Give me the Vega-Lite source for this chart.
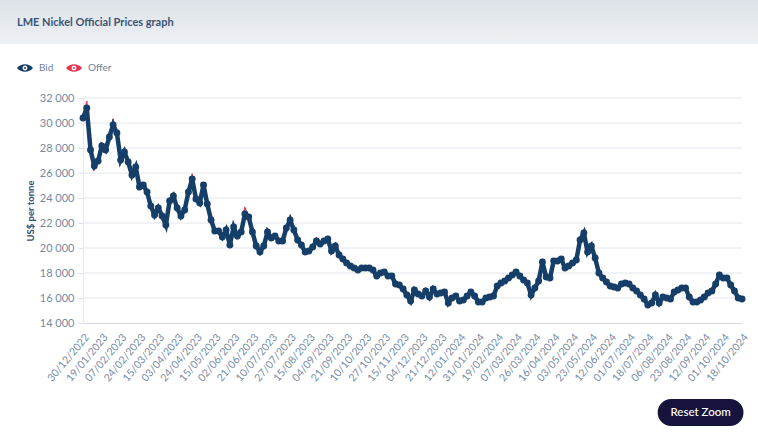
{"$schema":"https://vega.github.io/schema/vega-lite/v6.json","padding":0,"autosize":{"type":"none"},"width":758,"height":437,"background":"#ffffff","title":{"text":"LME Nickel Official Prices graph","anchor":"start","frame":"group","dx":17,"offset":-34,"baseline":"middle","font":"Lato","fontWeight":"bold","fontSize":11,"color":"#3a5573"},"config":{"font":"Lato","view":{"stroke":null}},"datasets":{"prices":[
{"date":"30/12/2022","bid":30400,"offer":30470},{"date":"04/01/2023","bid":31200,"offer":31700},{"date":"09/01/2023","bid":27840,"offer":27900},{"date":"12/01/2023","bid":26560,"offer":26300},{"date":"16/01/2023","bid":26960,"offer":27030},
{"date":"19/01/2023","bid":28160,"offer":28400},{"date":"23/01/2023","bid":27840,"offer":27900},{"date":"26/01/2023","bid":28880,"offer":28950},{"date":"30/01/2023","bid":29840,"offer":30300},{"date":"02/02/2023","bid":29200,"offer":29270},
{"date":"07/02/2023","bid":27040,"offer":27100},{"date":"10/02/2023","bid":27680,"offer":28000},{"date":"14/02/2023","bid":26880,"offer":26950},{"date":"17/02/2023","bid":25840,"offer":25900},{"date":"21/02/2023","bid":26480,"offer":26700},
{"date":"24/02/2023","bid":24880,"offer":24950},{"date":"01/03/2023","bid":25040,"offer":25110},{"date":"06/03/2023","bid":24480,"offer":24550},{"date":"08/03/2023","bid":23360,"offer":23430},{"date":"13/03/2023","bid":22640,"offer":23000},
{"date":"15/03/2023","bid":23200,"offer":23400},{"date":"20/03/2023","bid":22560,"offer":22630},{"date":"23/03/2023","bid":21840,"offer":21900},{"date":"27/03/2023","bid":23760,"offer":23830},{"date":"30/03/2023","bid":24160,"offer":24400},
{"date":"03/04/2023","bid":23200,"offer":23270},{"date":"06/04/2023","bid":22560,"offer":22630},{"date":"12/04/2023","bid":23040,"offer":23110},{"date":"14/04/2023","bid":24480,"offer":24550},{"date":"19/04/2023","bid":25520,"offer":25900},
{"date":"24/04/2023","bid":23920,"offer":23990},{"date":"27/04/2023","bid":23600,"offer":23670},{"date":"03/05/2023","bid":25040,"offer":25150},{"date":"05/05/2023","bid":23520,"offer":23590},{"date":"10/05/2023","bid":22240,"offer":22310},
{"date":"15/05/2023","bid":21360,"offer":21430},{"date":"18/05/2023","bid":21360,"offer":21430},{"date":"22/05/2023","bid":20880,"offer":20950},{"date":"25/05/2023","bid":21440,"offer":21700},{"date":"30/05/2023","bid":20240,"offer":20310},
{"date":"02/06/2023","bid":21680,"offer":21900},{"date":"07/06/2023","bid":20960,"offer":21030},{"date":"12/06/2023","bid":21280,"offer":21350},{"date":"14/06/2023","bid":22720,"offer":23200},{"date":"19/06/2023","bid":22480,"offer":22550},
{"date":"21/06/2023","bid":21280,"offer":21350},{"date":"26/06/2023","bid":20160,"offer":20230},{"date":"29/06/2023","bid":19680,"offer":19750},{"date":"03/07/2023","bid":20160,"offer":20230},{"date":"06/07/2023","bid":21280,"offer":21500},
{"date":"10/07/2023","bid":20800,"offer":20870},{"date":"13/07/2023","bid":20960,"offer":21100},{"date":"17/07/2023","bid":20560,"offer":20630},{"date":"19/07/2023","bid":20560,"offer":20630},{"date":"25/07/2023","bid":21600,"offer":21670},
{"date":"27/07/2023","bid":22240,"offer":22600},{"date":"01/08/2023","bid":21440,"offer":21510},{"date":"04/08/2023","bid":20640,"offer":20710},{"date":"08/08/2023","bid":20240,"offer":20310},{"date":"11/08/2023","bid":19680,"offer":19750},
{"date":"15/08/2023","bid":19760,"offer":19830},{"date":"18/08/2023","bid":20080,"offer":20150},{"date":"23/08/2023","bid":20560,"offer":20800},{"date":"28/08/2023","bid":20320,"offer":20390},{"date":"31/08/2023","bid":20560,"offer":20630},
{"date":"04/09/2023","bid":20720,"offer":20790},{"date":"07/09/2023","bid":19760,"offer":19830},{"date":"11/09/2023","bid":20160,"offer":20300},{"date":"14/09/2023","bid":19440,"offer":19510},{"date":"19/09/2023","bid":19120,"offer":19190},
{"date":"21/09/2023","bid":18800,"offer":18870},{"date":"26/09/2023","bid":18560,"offer":18630},{"date":"29/09/2023","bid":18400,"offer":18470},{"date":"03/10/2023","bid":18240,"offer":18310},{"date":"06/10/2023","bid":18400,"offer":18470},
{"date":"10/10/2023","bid":18400,"offer":18470},{"date":"13/10/2023","bid":18400,"offer":18470},{"date":"17/10/2023","bid":18240,"offer":18310},{"date":"20/10/2023","bid":17760,"offer":17830},{"date":"25/10/2023","bid":18000,"offer":18070},
{"date":"27/10/2023","bid":18080,"offer":18150},{"date":"01/11/2023","bid":17760,"offer":17830},{"date":"06/11/2023","bid":17760,"offer":17830},{"date":"08/11/2023","bid":17120,"offer":17190},{"date":"13/11/2023","bid":17040,"offer":17110},
{"date":"15/11/2023","bid":16720,"offer":16790},{"date":"20/11/2023","bid":16240,"offer":16310},{"date":"23/11/2023","bid":15760,"offer":15830},{"date":"27/11/2023","bid":16640,"offer":16710},{"date":"30/11/2023","bid":16320,"offer":16390},
{"date":"04/12/2023","bid":16160,"offer":16230},{"date":"07/12/2023","bid":16560,"offer":16630},{"date":"11/12/2023","bid":16080,"offer":16150},{"date":"14/12/2023","bid":16720,"offer":16790},{"date":"19/12/2023","bid":16320,"offer":16390},
{"date":"21/12/2023","bid":16400,"offer":16470},{"date":"28/12/2023","bid":16480,"offer":16650},{"date":"03/01/2024","bid":15600,"offer":15670},{"date":"05/01/2024","bid":16000,"offer":16070},{"date":"10/01/2024","bid":16160,"offer":16280},
{"date":"12/01/2024","bid":15760,"offer":15830},{"date":"17/01/2024","bid":15840,"offer":15910},{"date":"19/01/2024","bid":16160,"offer":16230},{"date":"24/01/2024","bid":16480,"offer":16550},{"date":"29/01/2024","bid":16160,"offer":16230},
{"date":"31/01/2024","bid":15680,"offer":15750},{"date":"05/02/2024","bid":15680,"offer":15750},{"date":"08/02/2024","bid":16000,"offer":16070},{"date":"12/02/2024","bid":16080,"offer":16150},{"date":"15/02/2024","bid":16160,"offer":16230},
{"date":"19/02/2024","bid":16960,"offer":17030},{"date":"22/02/2024","bid":17200,"offer":17270},{"date":"26/02/2024","bid":17360,"offer":17430},{"date":"29/02/2024","bid":17600,"offer":17670},{"date":"04/03/2024","bid":17840,"offer":17910},
{"date":"07/03/2024","bid":18080,"offer":18150},{"date":"12/03/2024","bid":17760,"offer":17830},{"date":"15/03/2024","bid":17440,"offer":17510},{"date":"19/03/2024","bid":17200,"offer":17270},{"date":"22/03/2024","bid":16240,"offer":16310},
{"date":"26/03/2024","bid":16800,"offer":16870},{"date":"02/04/2024","bid":17360,"offer":17430},{"date":"05/04/2024","bid":18880,"offer":19100},{"date":"09/04/2024","bid":17680,"offer":17750},{"date":"12/04/2024","bid":17600,"offer":17670},
{"date":"16/04/2024","bid":18960,"offer":19030},{"date":"19/04/2024","bid":18960,"offer":19030},{"date":"23/04/2024","bid":19120,"offer":19190},{"date":"26/04/2024","bid":18400,"offer":18470},{"date":"30/04/2024","bid":18560,"offer":18630},
{"date":"03/05/2024","bid":18800,"offer":18870},{"date":"08/05/2024","bid":19040,"offer":19110},{"date":"10/05/2024","bid":20640,"offer":20710},{"date":"15/05/2024","bid":21200,"offer":21270},{"date":"20/05/2024","bid":19680,"offer":19750},
{"date":"23/05/2024","bid":20160,"offer":20230},{"date":"28/05/2024","bid":19200,"offer":19270},{"date":"31/05/2024","bid":18000,"offer":18070},{"date":"05/06/2024","bid":17600,"offer":17670},{"date":"07/06/2024","bid":17280,"offer":17350},
{"date":"12/06/2024","bid":16960,"offer":17030},{"date":"17/06/2024","bid":16880,"offer":16950},{"date":"20/06/2024","bid":16800,"offer":16870},{"date":"25/06/2024","bid":17120,"offer":17190},{"date":"27/06/2024","bid":17200,"offer":17270},
{"date":"01/07/2024","bid":17120,"offer":17190},{"date":"04/07/2024","bid":16800,"offer":16870},{"date":"09/07/2024","bid":16560,"offer":16630},{"date":"11/07/2024","bid":16240,"offer":16310},{"date":"16/07/2024","bid":15920,"offer":15990},
{"date":"18/07/2024","bid":15440,"offer":15510},{"date":"23/07/2024","bid":15600,"offer":15670},{"date":"25/07/2024","bid":16240,"offer":16310},{"date":"30/07/2024","bid":15600,"offer":15670},{"date":"01/08/2024","bid":16080,"offer":16150},
{"date":"06/08/2024","bid":16000,"offer":16070},{"date":"09/08/2024","bid":15920,"offer":15990},{"date":"13/08/2024","bid":16480,"offer":16550},{"date":"15/08/2024","bid":16640,"offer":16710},{"date":"20/08/2024","bid":16800,"offer":16870},
{"date":"23/08/2024","bid":16800,"offer":16870},{"date":"28/08/2024","bid":16080,"offer":16150},{"date":"02/09/2024","bid":15680,"offer":15750},{"date":"04/09/2024","bid":15680,"offer":15750},{"date":"09/09/2024","bid":15840,"offer":15910},
{"date":"12/09/2024","bid":16080,"offer":16150},{"date":"17/09/2024","bid":16400,"offer":16470},{"date":"19/09/2024","bid":16560,"offer":16630},{"date":"24/09/2024","bid":17120,"offer":17190},{"date":"26/09/2024","bid":17840,"offer":17910},
{"date":"01/10/2024","bid":17600,"offer":17670},{"date":"04/10/2024","bid":17600,"offer":17670},{"date":"09/10/2024","bid":17040,"offer":17110},{"date":"11/10/2024","bid":16560,"offer":16630},{"date":"16/10/2024","bid":16000,"offer":16070},
{"date":"18/10/2024","bid":15920,"offer":15990}],
"gridlines":[{"level":16000},{"level":18000},{"level":20000},{"level":22000},{"level":24000},{"level":26000},{"level":28000},{"level":30000},{"level":32000}],
"button":[{"name":"Reset Zoom"}]},
"layer":[
{"data":{"values":[{"band":"header"}]},"mark":{"type":"rect","fill":{"x1":0,"y1":0,"x2":0,"y2":1,"gradient":"linear","stops":[{"offset":0,"color":"#dde3e9"},{"offset":1,"color":"#edf0f3"}]}},"encoding":{"y":{"datum":39840},"y2":{"datum":36320}}},
{"encoding":{"x":{"field":"date","type":"ordinal","title":null,"scale":{"type":"point","padding":0,"range":[83,742],"domain":["30/12/2022","04/01/2023","09/01/2023","12/01/2023","16/01/2023","19/01/2023","23/01/2023","26/01/2023","30/01/2023","02/02/2023","07/02/2023","10/02/2023","14/02/2023","17/02/2023","21/02/2023","24/02/2023","01/03/2023","06/03/2023","08/03/2023","13/03/2023","15/03/2023","20/03/2023","23/03/2023","27/03/2023","30/03/2023","03/04/2023","06/04/2023","12/04/2023","14/04/2023","19/04/2023","24/04/2023","27/04/2023","03/05/2023","05/05/2023","10/05/2023","15/05/2023","18/05/2023","22/05/2023","25/05/2023","30/05/2023","02/06/2023","07/06/2023","12/06/2023","14/06/2023","19/06/2023","21/06/2023","26/06/2023","29/06/2023","03/07/2023","06/07/2023","10/07/2023","13/07/2023","17/07/2023","19/07/2023","25/07/2023","27/07/2023","01/08/2023","04/08/2023","08/08/2023","11/08/2023","15/08/2023","18/08/2023","23/08/2023","28/08/2023","31/08/2023","04/09/2023","07/09/2023","11/09/2023","14/09/2023","19/09/2023","21/09/2023","26/09/2023","29/09/2023","03/10/2023","06/10/2023","10/10/2023","13/10/2023","17/10/2023","20/10/2023","25/10/2023","27/10/2023","01/11/2023","06/11/2023","08/11/2023","13/11/2023","15/11/2023","20/11/2023","23/11/2023","27/11/2023","30/11/2023","04/12/2023","07/12/2023","11/12/2023","14/12/2023","19/12/2023","21/12/2023","28/12/2023","03/01/2024","05/01/2024","10/01/2024","12/01/2024","17/01/2024","19/01/2024","24/01/2024","29/01/2024","31/01/2024","05/02/2024","08/02/2024","12/02/2024","15/02/2024","19/02/2024","22/02/2024","26/02/2024","29/02/2024","04/03/2024","07/03/2024","12/03/2024","15/03/2024","19/03/2024","22/03/2024","26/03/2024","02/04/2024","05/04/2024","09/04/2024","12/04/2024","16/04/2024","19/04/2024","23/04/2024","26/04/2024","30/04/2024","03/05/2024","08/05/2024","10/05/2024","15/05/2024","20/05/2024","23/05/2024","28/05/2024","31/05/2024","05/06/2024","07/06/2024","12/06/2024","17/06/2024","20/06/2024","25/06/2024","27/06/2024","01/07/2024","04/07/2024","09/07/2024","11/07/2024","16/07/2024","18/07/2024","23/07/2024","25/07/2024","30/07/2024","01/08/2024","06/08/2024","09/08/2024","13/08/2024","15/08/2024","20/08/2024","23/08/2024","28/08/2024","02/09/2024","04/09/2024","09/09/2024","12/09/2024","17/09/2024","19/09/2024","24/09/2024","26/09/2024","01/10/2024","04/10/2024","09/10/2024","11/10/2024","16/10/2024","18/10/2024"]},"axis":{"orient":"bottom","offset":-114,"values":["30/12/2022","19/01/2023","07/02/2023","24/02/2023","15/03/2023","03/04/2023","24/04/2023","15/05/2023","02/06/2023","21/06/2023","10/07/2023","27/07/2023","15/08/2023","04/09/2023","21/09/2023","10/10/2023","27/10/2023","15/11/2023","04/12/2023","21/12/2023","12/01/2024","31/01/2024","19/02/2024","07/03/2024","26/03/2024","16/04/2024","03/05/2024","23/05/2024","12/06/2024","01/07/2024","18/07/2024","06/08/2024","23/08/2024","12/09/2024","01/10/2024","18/10/2024"],"labelAngle":-50,"labelAlign":"right","labelBaseline":"top","labelFontSize":10.5,"labelFont":"Lato","labelColor":"#7489a2","labelPadding":9,"labelOverlap":false,"labelBound":false,"ticks":false,"domainColor":"#d4d8e2","grid":false}}},
"layer":[
{"data":{"name":"gridlines"},"mark":{"type":"rule","color":"#e4e6ef","strokeWidth":1},"encoding":{"x":{"datum":"30/12/2022"},"x2":{"datum":"18/10/2024"},"y":{"field":"level","type":"quantitative"}}},
{"data":{"name":"prices"},"mark":{"type":"line","stroke":"#e8344e","strokeWidth":1.2},"encoding":{"y":{"field":"offer","type":"quantitative"}}},
{"data":{"name":"prices"},"mark":{"type":"circle","size":3,"opacity":1},"encoding":{"y":{"field":"offer","type":"quantitative"},"color":{"datum":"Offer"}}},
{"data":{"name":"prices"},"mark":{"type":"line","stroke":"#153f69","strokeWidth":4.5},"encoding":{"y":{"field":"bid","type":"quantitative","title":"US$ per tonne","scale":{"domain":[14000,32000],"nice":false,"zero":false,"range":[323,98]},"axis":{"orient":"left","offset":-83,"values":[14000,16000,18000,20000,22000,24000,26000,28000,30000,32000],"labelExpr":"replace(format(datum.value,','),',',' ')","labelFontSize":11,"labelFont":"Lato","labelColor":"#7489a2","labelPadding":4,"labelOverlap":false,"tickColor":"#dfe2ea","tickSize":5,"domainColor":"#e6e8f0","grid":false,"titleFont":"Lato","titleFontSize":9.5,"titleFontWeight":"bold","titleColor":"#2f4d6e","titlePadding":4}}}},
{"data":{"name":"prices"},"mark":{"type":"circle","size":48,"opacity":1},"encoding":{"y":{"field":"bid","type":"quantitative"},"color":{"datum":"Bid","type":"nominal","scale":{"domain":["Bid","Offer"],"range":["#153f69","#e8344e"]},"legend":{"title":null,"orient":"none","legendX":17,"legendY":60,"direction":"horizontal","padding":0,"symbolType":"M-1,0 C-0.5,-0.62 0.5,-0.62 1,0 C0.5,0.62 -0.5,0.62 -1,0 Z M0,-0.3 A0.3,0.3 0 1 0 0,0.3 A0.3,0.3 0 1 0 0,-0.3 Z M0,-0.12 A0.12,0.12 0 1 1 0,0.12 A0.12,0.12 0 1 1 0,-0.12 Z","symbolSize":256,"symbolStrokeWidth":0,"symbolOpacity":1,"labelFont":"Lato","labelFontSize":10,"labelColor":"#6d8099","labelOffset":6,"columnPadding":12}}}},
{"data":{"name":"button"},"mark":{"type":"rect","fill":"#16133d","stroke":"#16133d","strokeWidth":3,"cornerRadius":12},"encoding":{"x":{"datum":"30/07/2024"},"x2":{"datum":"18/10/2024"},"y":{"datum":7800},"y2":{"datum":5880}}},
{"data":{"name":"button"},"mark":{"type":"text","font":"Lato","fontSize":11.5,"fontWeight":500,"color":"#ffffff"},"encoding":{"x":{"datum":"09/09/2024"},"y":{"datum":6840},"text":{"field":"name"}}}
]}
]}
